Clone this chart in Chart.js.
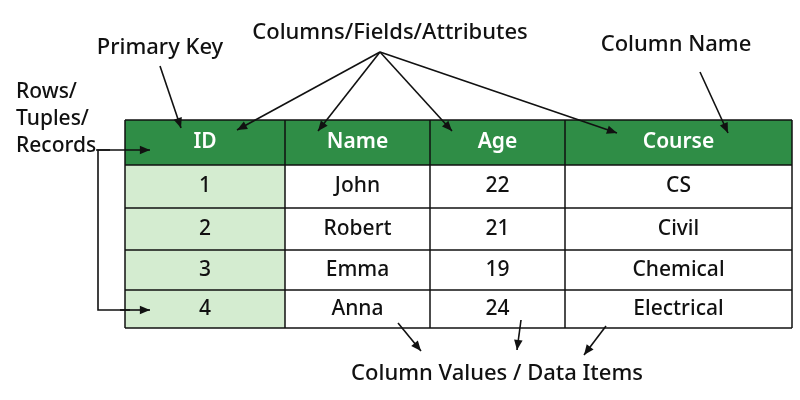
<!DOCTYPE html>
<html>
<head>
<meta charset="utf-8">
<script src="https://cdn.jsdelivr.net/npm/chart.js@4"></script>
<style>
html,body{margin:0;padding:0;background:#fff}
#wrap{width:800px;height:400px}
</style>
</head>
<body>
<div id="wrap"><canvas id="myChart"></canvas></div>
<script>
// table content
let columns = ["ID", "Name", "Age", "Course"];
let ids = ["1", "2", "3", "4"];
let names = ["John", "Robert", "Emma", "Anna"];
let ages = ["22", "21", "19", "24"];
let courses = ["CS", "Civil", "Chemical", "Electrical"];

// labels around the table
let topLabel = "Columns/Fields/Attributes";
let keyLabel = "Primary Key";
let colNameLabel = "Column Name";
let rowLabels = ["Rows/", "Tuples/", "Records"];
let bottomLabel = "Column Values / Data Items";

// grid edges in picture units
let colEdges = [125, 285, 430, 565, 792];
let rowEdges = [120, 165, 208, 250, 290, 328];

const font = "'Noto Sans', sans-serif";

function arrow(ctx, x1, y1, x2, y2) {
    ctx.beginPath();
    ctx.moveTo(x1, y1);
    ctx.lineTo(x2, y2);
    ctx.stroke();
    let a = Math.atan2(y2 - y1, x2 - x1);
    ctx.beginPath();
    ctx.moveTo(x2, y2);
    ctx.lineTo(x2 - 11 * Math.cos(a - 0.4), y2 - 11 * Math.sin(a - 0.4));
    ctx.lineTo(x2 - 11 * Math.cos(a + 0.4), y2 - 11 * Math.sin(a + 0.4));
    ctx.closePath();
    ctx.fill();
}

const tablePlugin = {
    id: "table",
    afterDraw(chart) {
        const ctx = chart.ctx;
        const sx = chart.scales.x, sy = chart.scales.y;
        const X = v => sx.getPixelForValue(v);
        const Y = v => sy.getPixelForValue(v);
        let body = [ids, names, ages, courses];

        ctx.save();
        ctx.fillStyle = "#2f8d46";
        ctx.fillRect(X(colEdges[0]), Y(rowEdges[0]), X(colEdges[4]) - X(colEdges[0]), Y(rowEdges[1]) - Y(rowEdges[0]));
        ctx.fillStyle = "#d4ecd0";
        ctx.fillRect(X(colEdges[0]), Y(rowEdges[1]), X(colEdges[1]) - X(colEdges[0]), Y(rowEdges[5]) - Y(rowEdges[1]));

        ctx.strokeStyle = "#111";
        ctx.lineWidth = 1.5;
        for (let c of colEdges) {
            ctx.beginPath(); ctx.moveTo(X(c), Y(rowEdges[0])); ctx.lineTo(X(c), Y(rowEdges[5])); ctx.stroke();
        }
        for (let r of rowEdges) {
            ctx.beginPath(); ctx.moveTo(X(colEdges[0]), Y(r)); ctx.lineTo(X(colEdges[4]), Y(r)); ctx.stroke();
        }

        ctx.textAlign = "center";
        ctx.textBaseline = "middle";
        columns.forEach((col, i) => {
            let cx = X((colEdges[i] + colEdges[i + 1]) / 2);
            ctx.fillStyle = "#fff";
            ctx.font = "600 21px " + font;
            ctx.fillText(col, cx, Y((rowEdges[0] + rowEdges[1]) / 2));
            ctx.fillStyle = "#111";
            ctx.font = "500 21px " + font;
            body[i].forEach((v, j) => {
                ctx.fillText(v, cx, Y((rowEdges[j + 1] + rowEdges[j + 2]) / 2));
            });
        });

        ctx.fillStyle = "#111";
        ctx.font = "500 22px " + font;
        ctx.fillText(topLabel, X(390), Y(33));
        ctx.fillText(keyLabel, X(160), Y(48));
        ctx.fillText(colNameLabel, X(676), Y(45));
        ctx.fillText(bottomLabel, X(497), Y(374));
        ctx.textAlign = "left";
        ctx.font = "500 21px " + font;
        rowLabels.forEach((t, i) => ctx.fillText(t, X(16), Y(92 + i * 27)));

        ctx.lineWidth = 1.6;
        arrow(ctx, X(380), Y(52), X(237), Y(130));
        arrow(ctx, X(380), Y(52), X(318), Y(131));
        arrow(ctx, X(380), Y(52), X(452), Y(131));
        arrow(ctx, X(380), Y(52), X(617), Y(133));
        arrow(ctx, X(160), Y(66), X(181), Y(128));
        arrow(ctx, X(700), Y(72), X(728), Y(133));
        arrow(ctx, X(96), Y(150), X(150), Y(150));
        ctx.beginPath();
        ctx.moveTo(X(110), Y(150)); ctx.lineTo(X(98), Y(150)); ctx.lineTo(X(98), Y(310)); ctx.lineTo(X(130), Y(310));
        ctx.stroke();
        arrow(ctx, X(120), Y(310), X(150), Y(310));
        arrow(ctx, X(398), Y(323), X(421), Y(351));
        arrow(ctx, X(521), Y(320), X(517), Y(350));
        arrow(ctx, X(606), Y(326), X(584), Y(355));
        ctx.restore();
    }
};

new Chart(document.getElementById("myChart"), {
    type: "scatter",
    data: { datasets: [{ data: [] }] },
    options: {
        responsive: true,
        maintainAspectRatio: false,
        animation: false,
        layout: { padding: 0 },
        plugins: { legend: { display: false }, tooltip: { enabled: false } },
        scales: {
            x: { type: "linear", min: 0, max: 800, display: false },
            y: { type: "linear", min: 0, max: 400, reverse: true, display: false }
        }
    },
    plugins: [tablePlugin]
});
</script>
</body>
</html>
